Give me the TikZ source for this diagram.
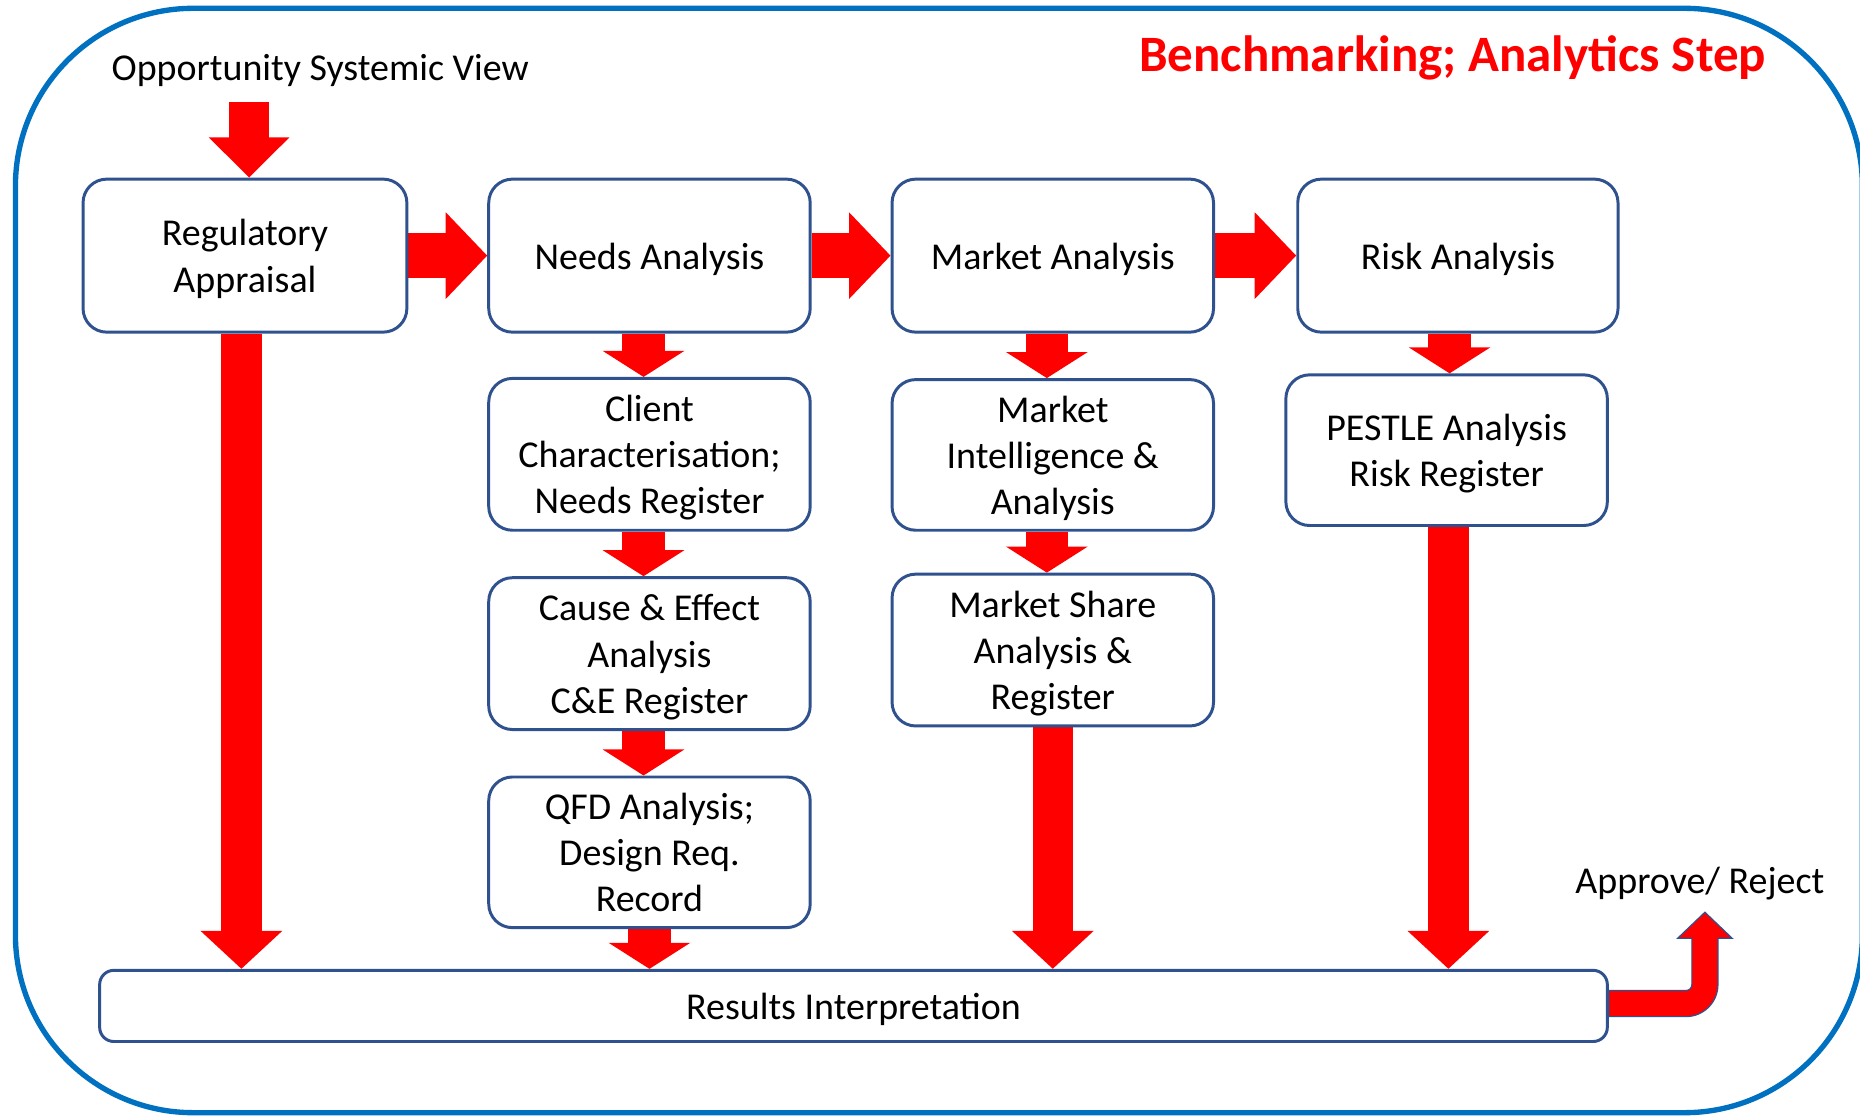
\documentclass[tikz,border=0pt]{standalone}
\usepackage{fontspec}
\setmainfont{Carlito}
\usetikzlibrary{arrows.meta}
\definecolor{frameblue}{RGB}{0,112,192}
\definecolor{boxblue}{RGB}{47,82,143}
\definecolor{flowred}{RGB}{255,0,0}
\pgfdeclarelayer{paper}
\pgfdeclarelayer{bg}
\pgfsetlayers{paper,bg,main}
% centred lines, set a little below the geometric centre of the box
\newcommand\boxlines[1]{\raisebox{-3.5pt}[\height][\depth]{\begin{tabular}{@{}c@{}}#1\end{tabular}}}
\begin{document}
\begin{tikzpicture}[x=1pt,y=-1pt,
  stepbox/.style={draw=boxblue, line width=2.5pt, rounded corners=20pt, fill=white,
    minimum width=271pt, minimum height=128pt, inner sep=0pt,
    font=\fontsize{32}{39}\selectfont},
  label/.style={inner sep=0pt, font=\fontsize{32}{39}\selectfont},
  bigdown/.style={flowred, line width=34pt, -{Triangle[length=32pt,width=67pt]}},
  smalldown/.style={flowred, line width=36pt, -{Triangle[length=22pt,width=68pt]}},
  rightarr/.style={flowred, line width=38pt, -{Triangle[length=35pt,width=71pt]}}]

\useasboundingbox (0,0) rectangle (1568,941);
\clip (0,0) rectangle (1568,941);
\begin{pgfonlayer}{paper}
  \fill[white] (0,0) rectangle (1568,941);
\end{pgfonlayer}

% outer frame
\draw[frameblue, line width=4.5pt, rounded corners=150pt] (13,7) rectangle (1570,938);

% headings
\node[label, anchor=base] (osv) at (270,68) {Opportunity Systemic View};
\node[inner sep=0pt, anchor=base, text=flowred, font=\fontsize{43}{50}\selectfont\bfseries]
  (title) at (1224.5,60) {Benchmarking; Analytics Step};
\node[label, anchor=base] (decision) at (1433,753) {Approve/ Reject};

% first row
\node[stepbox, minimum width=273pt, minimum height=129pt] (reg) at (206.5,215.5) {\boxlines{Regulatory\\Appraisal}};
\node[stepbox, minimum height=129pt] (needs) at (547.5,215.5) {\boxlines{Needs Analysis}};
\node[stepbox, minimum height=129pt] (market) at (887.5,215.5) {\boxlines{Market Analysis}};
\node[stepbox, minimum width=270pt, minimum height=129pt] (risk) at (1229,215.5) {\boxlines{Risk Analysis}};

% needs column
\node[stepbox] (client) at (547.5,383) {\boxlines{Client\\Characterisation;\\Needs Register}};
\node[stepbox] (cause) at (547.5,551) {\boxlines{Cause \& Effect\\Analysis\\C\&E Register}};
\node[stepbox, minimum height=127pt] (qfd) at (547.5,718.5) {\boxlines{QFD Analysis;\\Design Req.\\Record}};

% market column
\node[stepbox, minimum height=127pt] (intel) at (887.5,383.5) {\boxlines{Market\\Intelligence \&\\Analysis}};
\node[stepbox] (share) at (887.5,548) {\boxlines{Market Share\\Analysis \&\\Register}};

% risk column
\node[stepbox, minimum height=127pt] (pestle) at (1219.5,379.5) {\boxlines{PESTLE Analysis\\Risk Register}};

% results bar
\node[stepbox, rounded corners=12pt, minimum width=1271pt, minimum height=60pt] (res) at (719.5,848) {\boxlines{Results Interpretation}};

\coordinate (osvin) at (210,86);

\begin{pgfonlayer}{bg}
  % entry arrow
  \draw[flowred, line width=34pt, -{Triangle[length=34pt,width=66pt]}] (osvin) -- (osvin |- reg.north);
  % first row links
  \draw[rightarr] (reg.east) -- (needs.west);
  \draw[rightarr] (needs.east) -- (market.west);
  \draw[rightarr] (market.east) -- (risk.west);
  % short downward links
  \draw[smalldown] ([xshift=-5pt]needs.south) -- ([xshift=-5pt]client.north);
  \draw[smalldown] ([xshift=-5pt]client.south) -- ([xshift=-5pt]cause.north);
  \draw[smalldown] ([xshift=-5pt]cause.south) -- ([xshift=-5pt]qfd.north);
  \draw[smalldown] (qfd.south) -- (qfd.south |- res.north);
  \draw[smalldown] ([xshift=-5pt]market.south) -- ([xshift=-5pt]intel.north);
  \draw[smalldown] ([xshift=-5pt]intel.south) -- ([xshift=-5pt]share.north);
  \draw[smalldown] ([xshift=-7pt]risk.south) -- ([xshift=2.5pt]pestle.north);
  % long links into the results bar
  \draw[bigdown] ([xshift=-3pt]reg.south) -- ([xshift=-3pt]reg.south |- res.north);
  \draw[bigdown] (share.south) -- (share.south |- res.north);
  \draw[bigdown] ([xshift=1.5pt]pestle.south) -- ([xshift=1.5pt]pestle.south |- res.north);
  % bent arrow out of the results bar
  \begin{scope}[shift={(res.east)}]
    \filldraw[fill=flowred, draw=boxblue, line width=1pt, line join=miter]
      (0,-13) -- (65,-13) .. controls (67.8,-13) and (70,-15.2) .. (70,-18)
      -- (70,-57) -- (58,-57) -- (81,-79) -- (104,-57) -- (92,-57) -- (92,-18)
      .. controls (92,-3.1) and (79.9,9) .. (65,9) -- (0,9) -- cycle;
  \end{scope}
\end{pgfonlayer}
\end{tikzpicture}
\end{document}
